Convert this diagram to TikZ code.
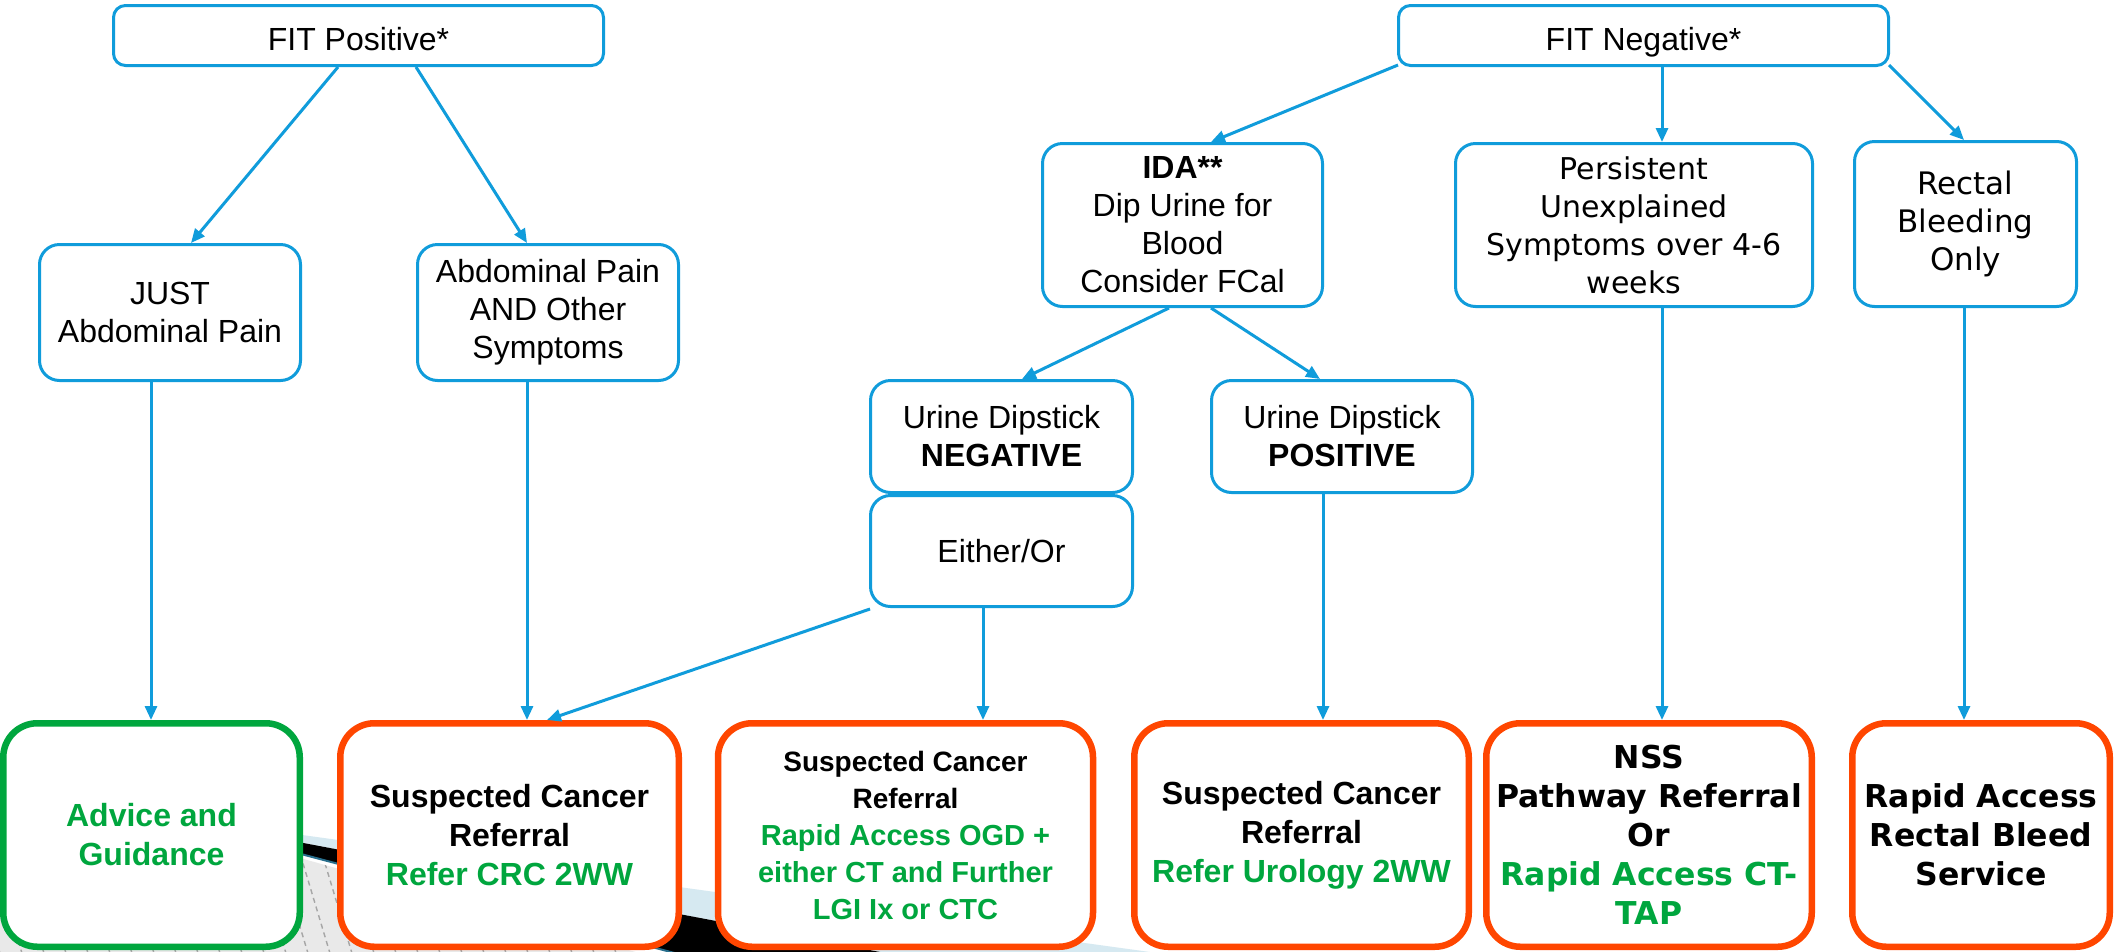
\documentclass[tikz,border=0pt]{standalone}
\usepackage{fontspec}
\setmainfont{Liberation Sans}
\newfontfamily\dejavu{DejaVu Sans}
\usetikzlibrary{arrows.meta,calc}
\definecolor{fblue}{RGB}{16,156,219}
\definecolor{fgreen}{RGB}{0,166,62}
\definecolor{fred}{RGB}{255,70,0}
\definecolor{bandblue}{RGB}{214,233,241}
\definecolor{hatchgrey}{RGB}{233,233,233}
\definecolor{bandteal}{RGB}{40,110,140}
\begin{document}
\begin{tikzpicture}[x=1pt,y=-1pt,
  bluebox/.style={draw=fblue, line width=3pt, rounded corners=20pt, fill=white,
    align=center, inner sep=0pt, font=\fontsize{32}{38}\selectfont},
  fitbox/.style={bluebox, rounded corners=12pt, minimum width=490pt, minimum height=60pt},
  endbox/.style={line width=6.5pt, rounded corners=34pt, fill=white,
    align=center, inner sep=0pt, minimum height=223.5pt,
    font=\bfseries\fontsize{32}{39}\selectfont},
  redbox/.style={endbox, draw=fred},
  greenbox/.style={endbox, draw=fgreen, text=fgreen},
  conn/.style={draw=fblue, line width=3pt, -{Triangle[length=14pt,width=12pt]}},
]
\useasboundingbox (0,0) rectangle (2117,951);
\fill[white] (0,0) rectangle (2117,951);

% background band seen behind the bottom boxes
\begin{scope}
  \clip (0,0) rectangle (2117,951);
  \coordinate (V) at (150,814);
  \fill[hatchgrey] (0,816) -- (150,816) -- ($(150,816)+(2000,560)$) -- (0,1500) -- cycle;
  \begin{scope}
    \clip (0,816) -- (150,816) -- ($(150,816)+(2000,560)$) -- (0,1500) -- cycle;
    \foreach \i in {-300,-278,...,800}
      \draw[black!35, line width=1.4pt, dash pattern=on 5pt off 4pt] (\i,760) -- ++(60,200);
  \end{scope}
  \fill[bandblue] (V) -- ($(V)+(2000,276)$) -- ($(V)+(2000,378)$) -- cycle;
  \fill[black] (V) -- ($(V)+(2000,378)$) -- ($(V)+(2000,530)$) -- cycle;
  \draw[bandteal, line width=2pt] (V) -- ($(V)+(2000,530)$);
\end{scope}

% top level
\node[fitbox] (fitpos) at (358.5,35.5) {\raisebox{-3pt}[23pt][0pt]{FIT Positive*}};
\node[fitbox] (fitneg) at (1643.5,35.5) {\raisebox{-3pt}[23pt][0pt]{FIT Negative*}};

% second level
\node[bluebox, minimum width=261pt, minimum height=136pt] (just) at (170,312.5) {JUST\\Abdominal Pain};
\node[bluebox, minimum width=261pt, minimum height=136pt] (abdand) at (548,312.5) {Abdominal Pain\\AND Other\\Symptoms};
\node[bluebox, minimum width=280pt, minimum height=163pt] (ida) at (1182.5,225) {\textbf{IDA**}\\Dip Urine for\\Blood\\Consider FCal};
\node[bluebox, minimum width=357pt, minimum height=163pt, font=\dejavu\fontsize{30}{38}\selectfont] (persist) at (1634,225) {Persistent\\Unexplained\\Symptoms over 4-6\\weeks};
\node[bluebox, minimum width=222pt, minimum height=165pt, font=\dejavu\fontsize{31}{38}\selectfont] (rectal) at (1965.5,224) {Rectal\\Bleeding\\Only};

% urine dipstick level
\node[bluebox, minimum width=262pt, minimum height=112pt] (uneg) at (1001.5,436.5) {Urine Dipstick\\\textbf{NEGATIVE}};
\node[bluebox, minimum width=262pt, minimum height=111pt] (either) at (1001.5,551) {Either/Or};
\node[bluebox, minimum width=261pt, minimum height=112pt] (upos) at (1342,436.5) {Urine Dipstick\\\textbf{POSITIVE}};

% outcome boxes
\node[greenbox, minimum width=296.5pt] (advice) at (151.5,835) {Advice and\\Guidance};
\node[redbox, minimum width=338.5pt] (crc) at (509.5,835) {Suspected Cancer\\Referral\\\textcolor{fgreen}{Refer CRC 2WW}};
\node[redbox, minimum width=375pt, font=\bfseries\fontsize{29}{37}\selectfont] (ogd) at (905.5,835)
  {{\fontsize{28}{37}\selectfont Suspected Cancer}\\{\fontsize{28}{37}\selectfont Referral}\\
   \textcolor{fgreen}{Rapid Access OGD +}\\\textcolor{fgreen}{either CT and Further}\\\textcolor{fgreen}{LGI Ix or CTC}};
\node[redbox, minimum width=334.5pt] (uro) at (1301.5,835) {Suspected Cancer\\Referral\\\textcolor{fgreen}{Refer Urology 2WW}};
\node[redbox, minimum width=325.5pt, font=\dejavu\bfseries\fontsize{31.5}{39}\selectfont] (nss) at (1649,835)
  {NSS\\Pathway Referral\\Or\\\textcolor{fgreen}{Rapid Access CT-}\\\textcolor{fgreen}{TAP}};
\node[redbox, minimum width=257.5pt, font=\dejavu\bfseries\fontsize{31.5}{39}\selectfont] (rapid) at (1981,835)
  {Rapid Access\\Rectal Bleed\\Service};

% connectors
\draw[conn] ([xshift=-20.5pt]fitpos.south) -- ([xshift=21pt]just.north);
\draw[conn] ([xshift=57.5pt]fitpos.south) -- ([xshift=-21pt]abdand.north);
\draw[conn] ([xshift=-19pt]just.south) -- ([xshift=-19pt]just.south |- advice.north);
\draw[conn] ([xshift=-21pt]abdand.south) -- ([xshift=-21pt]abdand.south |- crc.north);
\draw[conn] ([xshift=1pt,yshift=2pt]fitneg.south west) -- ([xshift=28.5pt]ida.north);
\draw[conn] ([xshift=18.5pt]fitneg.south) -- ([xshift=18.5pt]fitneg.south |- persist.north);
\draw[conn] ([xshift=-1pt,yshift=2pt]fitneg.south east) -- ([xshift=-1.5pt]rectal.north);
\draw[conn] ([xshift=-13.5pt]ida.south) -- ([xshift=20.5pt]uneg.north);
\draw[conn] ([xshift=28.5pt]ida.south) -- ([xshift=-22pt]upos.north);
\draw[conn] ([xshift=1pt,yshift=-1pt]either.south west) -- ([xshift=37.5pt]crc.north);
\draw[conn] ([xshift=-18.5pt]either.south) -- ([xshift=-18.5pt]either.south |- ogd.north);
\draw[conn] ([xshift=-19pt]upos.south) -- ([xshift=-19pt]upos.south |- uro.north);
\draw[conn] ([xshift=28pt]persist.south) -- ([xshift=28pt]persist.south |- nss.north);
\draw[conn] ([xshift=-1.5pt]rectal.south) -- ([xshift=-1.5pt]rectal.south |- rapid.north);
\end{tikzpicture}
\end{document}
